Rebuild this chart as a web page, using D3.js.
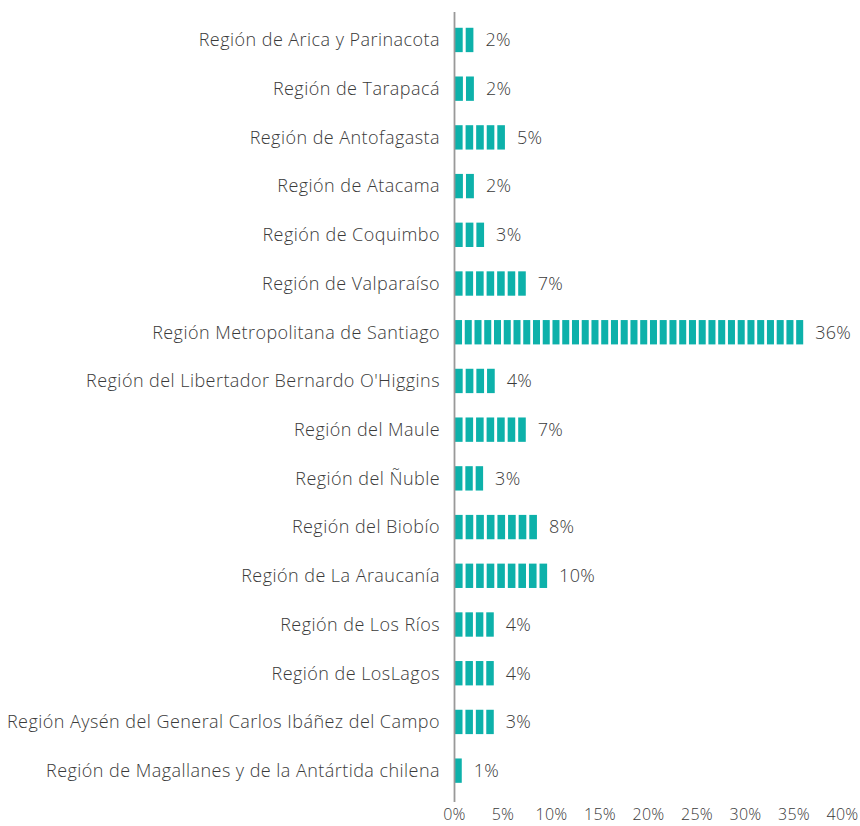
<!DOCTYPE html>
<html>
<head>
<meta charset="utf-8">
<script src="https://cdn.jsdelivr.net/npm/d3@7"></script>
<style>
  body { margin: 0; background: #fff; }
</style>
</head>
<body>
<div id="chart"></div>
<script>
// data
const regions = [
  "Región de Arica y Parinacota",
  "Región de Tarapacá",
  "Región de Antofagasta",
  "Región de Atacama",
  "Región de Coquimbo",
  "Región de Valparaíso",
  "Región Metropolitana de Santiago",
  "Región del Libertador Bernardo O'Higgins",
  "Región del Maule",
  "Región del Ñuble",
  "Región del Biobío",
  "Región de La Araucanía",
  "Región de Los Ríos",
  "Región de LosLagos",
  "Región Aysén del General Carlos Ibáñez del Campo",
  "Región de Magallanes y de la Antártida chilena"
];
const shares = [2.0, 2.05, 5.25, 2.05, 3.1, 7.4, 36.0, 4.2, 7.4, 3.0, 8.55, 9.6, 4.1, 4.1, 4.1, 0.8];
const labels = ["2%", "2%", "5%", "2%", "3%", "7%", "36%", "4%", "7%", "3%", "8%", "10%", "4%", "4%", "3%", "1%"];
const ticks = [0, 5, 10, 15, 20, 25, 30, 35, 40];

// const
const width = 860;
const height = 826;
const margin = { top: 15.6, right: 18, bottom: 31, left: 454 };
const teal = '#0db1aa';
const textColor = '#3a3a3a';

// svg
const svg = d3.select('#chart')
  .append('svg')
  .attr('width', width)
  .attr('height', height)
  .attr('style', "font-family: 'Open Sans', sans-serif; font-weight: 300");

// scales
const x = d3.scaleLinear()
  .domain([0, 40])
  .range([margin.left, width - margin.right]);
const y = d3.scaleBand()
  .domain(regions)
  .range([margin.top, height - margin.bottom])
  .paddingInner(0.5)
  .paddingOuter(0.25);

// x axis, labels only
svg.append('g')
  .attr('transform', `translate(0, ${height - 6})`)
  .call(d3.axisBottom(x).tickValues(ticks).tickFormat(d => d + '%').tickSize(0))
  .call(g => g.select('.domain').remove())
  .call(g => g.selectAll('text')
    .attr('y', 0)
    .attr('dy', 0)
    .attr('font-size', 16)
    .attr('letter-spacing', 0.3)
    .attr('font-family', "'Open Sans', sans-serif")
    .attr('fill', textColor));

// y labels
svg.append('g')
  .selectAll('text')
  .data(regions)
  .join('text')
  .attr('x', margin.left - 14)
  .attr('y', d => y(d) + y.bandwidth() / 2)
  .attr('dy', '0.35em')
  .attr('text-anchor', 'end')
  .attr('font-size', 18)
  .attr('letter-spacing', 0.45)
  .attr('fill', textColor)
  .text(d => d);

// pictograph bars: whole blocks stretched to fill each bar
const rows = svg.append('g')
  .selectAll('g')
  .data(regions)
  .join('g');

rows.each(function(r, i) {
  const n = Math.max(1, Math.floor(shares[i] + 1e-6));
  const b = d3.scaleBand()
    .domain(d3.range(n))
    .range([x(0) + 1, x(shares[i])])
    .paddingInner(n > 1 ? 0.28 : 0);
  d3.select(this).selectAll('rect')
    .data(d3.range(n))
    .join('rect')
    .attr('x', k => b(k))
    .attr('y', y(r))
    .attr('width', b.bandwidth())
    .attr('height', y.bandwidth())
    .attr('fill', teal);
});

// value labels
svg.append('g')
  .selectAll('text')
  .data(regions)
  .join('text')
  .attr('x', (d, i) => x(shares[i]) + 12)
  .attr('y', d => y(d) + y.bandwidth() / 2)
  .attr('dy', '0.35em')
  .attr('font-size', 18)
  .attr('letter-spacing', 0.3)
  .attr('fill', textColor)
  .text((d, i) => labels[i]);

// vertical axis line
svg.append('line')
  .attr('x1', x(0) + 0.5)
  .attr('x2', x(0) + 0.5)
  .attr('y1', 12)
  .attr('y2', 802)
  .attr('stroke', '#999')
  .attr('stroke-width', 1.8);
</script>
</body>
</html>
